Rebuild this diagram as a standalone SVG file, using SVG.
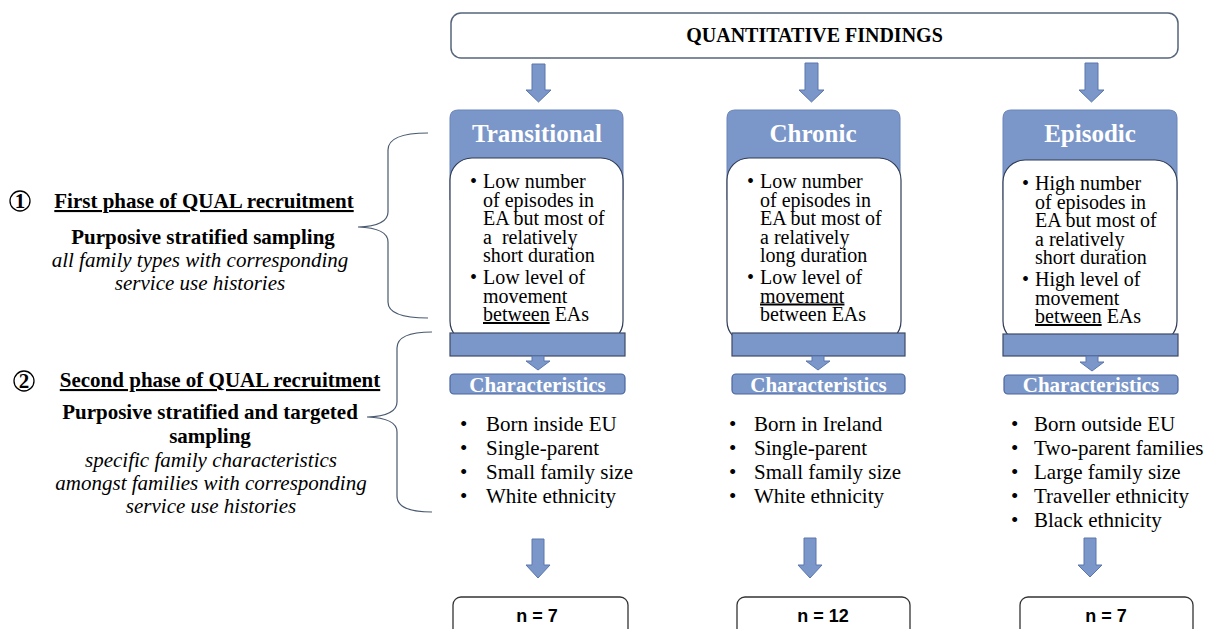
<svg xmlns="http://www.w3.org/2000/svg" width="1220" height="629" viewBox="0 0 1220 629">
<style>
.bg{fill:#ffffff}
.hdr{fill:#7b96c8;stroke:#6a84b8;stroke-width:1}
.inner{fill:#ffffff;stroke:#2f3b55;stroke-width:1.2}
.bar{fill:#7b96c8;stroke:#3c4a66;stroke-width:1.2}
.pill{fill:#7b96c8;stroke:#4a66a0;stroke-width:1.2}
.arrow{fill:#7b96c8;stroke:#5a76ae;stroke-width:1}
.topbox{fill:#ffffff;stroke:#55657a;stroke-width:1.5}
.nbox{fill:#ffffff;stroke:#333333;stroke-width:1.3}
.brace{fill:none;stroke:#4a5a70;stroke-width:1.2}
.circ{fill:#ffffff;stroke:#000000;stroke-width:1.3}
.ttl{font-family:"Liberation Serif",serif;font-weight:bold;font-size:20px;fill:#000}
.head{font-family:"Liberation Serif",serif;font-weight:bold;font-size:25px;fill:#ffffff}
.char{font-family:"Liberation Serif",serif;font-weight:bold;font-size:21px;fill:#ffffff}
.body{font-family:"Liberation Serif",serif;font-size:20px;fill:#000}
.list{font-family:"Liberation Serif",serif;font-size:21px;fill:#000}
.lb{font-family:"Liberation Serif",serif;font-weight:bold;font-size:21px;fill:#000}
.li{font-family:"Liberation Serif",serif;font-style:italic;font-size:21px;fill:#000}
.n{font-family:"Liberation Sans",Arial,sans-serif;font-weight:bold;font-size:18px;fill:#000}
</style>
<rect class="bg" x="0" y="0" width="1220" height="629"/>

<g id="quantitative-findings">
<rect class="topbox" x="451" y="13" width="727" height="45" rx="10"/>
<text class="ttl" x="814.5" y="42" text-anchor="middle">QUANTITATIVE FINDINGS</text>
</g>

<g id="phase1">
<circle class="circ" cx="20" cy="201" r="10"/>
<text class="lb" x="20" y="207.5" text-anchor="middle" font-size="18">1</text>
<text class="lb" x="204" y="208" text-anchor="middle" text-decoration="underline">First phase of QUAL recruitment</text>
<text class="lb" x="203" y="244" text-anchor="middle">Purposive stratified sampling</text>
<text class="li" x="200" y="267" text-anchor="middle">all family types with corresponding</text>
<text class="li" x="200" y="290" text-anchor="middle">service use histories</text>
</g>

<g id="phase2">
<circle class="circ" cx="24" cy="381" r="10"/>
<text class="lb" x="24" y="387.5" text-anchor="middle" font-size="18">2</text>
<text class="lb" x="220" y="387" text-anchor="middle" text-decoration="underline">Second phase of QUAL recruitment</text>
<text class="lb" x="210" y="419" text-anchor="middle">Purposive stratified and targeted</text>
<text class="lb" x="210" y="443" text-anchor="middle">sampling</text>
<text class="li" x="211" y="467" text-anchor="middle">specific family characteristics</text>
<text class="li" x="211" y="490" text-anchor="middle">amongst families with corresponding</text>
<text class="li" x="211" y="513" text-anchor="middle">service use histories</text>
</g>

<g id="transitional">
<path class="hdr" d="M450,200 L450,118 Q450,110 458,110 L615,110 Q623,110 623,118 L623,200 Z"/>
<text class="head" x="537" y="142" text-anchor="middle">Transitional</text>
<rect class="inner" x="450" y="158" width="173" height="185" rx="22"/>
<rect class="bar" x="450" y="333" width="175" height="23"/>
<g class="body">
<text x="470" y="188">•</text>
<text x="483" y="188">Low number</text>
<text x="483" y="206.5">of episodes in</text>
<text x="483" y="225">EA but most of</text>
<text x="483" y="243.5" xml:space="preserve">a  relatively</text>
<text x="483" y="262">short duration</text>
<text x="470" y="284">•</text>
<text x="483" y="284">Low level of</text>
<text x="483" y="302.5">movement</text>
<text x="483" y="321"><tspan text-decoration="underline">between</tspan> EAs</text>
</g>
</g>

<g id="chronic">
<path class="hdr" d="M727,200 L727,118 Q727,110 735,110 L892,110 Q900,110 900,118 L900,200 Z"/>
<text class="head" x="813" y="142" text-anchor="middle">Chronic</text>
<rect class="inner" x="727" y="158" width="174" height="185" rx="22"/>
<rect class="bar" x="732" y="333" width="173" height="23"/>
<g class="body">
<text x="747" y="188">•</text>
<text x="760" y="188">Low number</text>
<text x="760" y="206.5">of episodes in</text>
<text x="760" y="225">EA but most of</text>
<text x="760" y="243.5">a relatively</text>
<text x="760" y="262">long duration</text>
<text x="747" y="284">•</text>
<text x="760" y="284">Low level of</text>
<text x="760" y="302.5" text-decoration="underline">movement</text>
<text x="760" y="321">between EAs</text>
</g>
</g>

<g id="episodic">
<path class="hdr" d="M1003,200 L1003,118 Q1003,110 1011,110 L1169,110 Q1177,110 1177,118 L1177,200 Z"/>
<text class="head" x="1090" y="142" text-anchor="middle">Episodic</text>
<rect class="inner" x="1003" y="160" width="174" height="183" rx="22"/>
<rect class="bar" x="1003" y="334" width="175" height="22"/>
<g class="body">
<text x="1022" y="190">•</text>
<text x="1035" y="190">High number</text>
<text x="1035" y="208.5">of episodes in</text>
<text x="1035" y="227">EA but most of</text>
<text x="1035" y="245.5">a relatively</text>
<text x="1035" y="264">short duration</text>
<text x="1022" y="286">•</text>
<text x="1035" y="286">High level of</text>
<text x="1035" y="304.5">movement</text>
<text x="1035" y="323"><tspan text-decoration="underline">between</tspan> EAs</text>
</g>
</g>

<g id="characteristics-transitional">
<rect class="pill" x="450" y="374" width="175" height="20" rx="4"/>
<text class="char" x="537.5" y="391.5" text-anchor="middle">Characteristics</text>
</g>
<g id="characteristics-chronic">
<rect class="pill" x="732" y="374" width="173" height="20" rx="4"/>
<text class="char" x="818.5" y="391.5" text-anchor="middle">Characteristics</text>
</g>
<g id="characteristics-episodic">
<rect class="pill" x="1004" y="375" width="174" height="19" rx="4"/>
<text class="char" x="1091" y="391.5" text-anchor="middle">Characteristics</text>
</g>

<g id="list-transitional" class="list">
<text x="460" y="431">•</text><text x="486" y="431">Born inside EU</text>
<text x="460" y="455">•</text><text x="486" y="455">Single-parent</text>
<text x="460" y="479">•</text><text x="486" y="479">Small family size</text>
<text x="460" y="503">•</text><text x="486" y="503">White ethnicity</text>
</g>
<g id="list-chronic" class="list">
<text x="729" y="431">•</text><text x="754" y="431">Born in Ireland</text>
<text x="729" y="455">•</text><text x="754" y="455">Single-parent</text>
<text x="729" y="479">•</text><text x="754" y="479">Small family size</text>
<text x="729" y="503">•</text><text x="754" y="503">White ethnicity</text>
</g>
<g id="list-episodic" class="list">
<text x="1011" y="431">•</text><text x="1034" y="431">Born outside EU</text>
<text x="1011" y="455">•</text><text x="1034" y="455">Two-parent families</text>
<text x="1011" y="479">•</text><text x="1034" y="479">Large family size</text>
<text x="1011" y="503">•</text><text x="1034" y="503">Traveller ethnicity</text>
<text x="1011" y="527">•</text><text x="1034" y="527">Black ethnicity</text>
</g>

<g id="n-transitional">
<rect class="nbox" x="453" y="597" width="175" height="50" rx="8"/>
<text class="n" x="537" y="622" text-anchor="middle">n = 7</text>
</g>
<g id="n-chronic">
<rect class="nbox" x="737" y="597" width="173" height="50" rx="8"/>
<text class="n" x="823" y="622" text-anchor="middle">n = 12</text>
</g>
<g id="n-episodic">
<rect class="nbox" x="1020" y="597" width="173" height="50" rx="8"/>
<text class="n" x="1106" y="622" text-anchor="middle">n = 7</text>
</g>

<g id="connectors">
<polygon class="arrow" points="532,64 545,64 545,90 551,90 538.5,102 526,90 532,90"/>
<polygon class="arrow" points="805,63 818,63 818,90 824,90 811.5,102 799,90 805,90"/>
<polygon class="arrow" points="1085,63 1098,63 1098,90 1104,90 1091.5,102 1079,90 1085,90"/>
<polygon class="arrow" points="532,356 544,356 544,361 550,361 538,370 526,361 532,361"/>
<polygon class="arrow" points="812,356 824,356 824,361 830,361 818,370 806,361 812,361"/>
<polygon class="arrow" points="1086,356 1098,356 1098,362 1104,362 1092,371 1080,362 1086,362"/>
<polygon class="arrow" points="532,539 544,539 544,565 550,565 538,578 526,565 532,565"/>
<polygon class="arrow" points="804,538 816,538 816,565 822,565 810,578 798,565 804,565"/>
<polygon class="arrow" points="1084,538 1096,538 1096,565 1102,565 1090,577 1078,565 1084,565"/>
<path class="brace" d="M428,133 Q388,133 388,150 L388,212 Q388,226 358,227 Q388,228 388,242 L388,302 Q388,318 428,318"/>
<path class="brace" d="M432,332 Q397,332 397,348 L397,402 Q397,416 367,417 Q397,418 397,432 L397,496 Q397,512 432,512"/>
</g>
</svg>
